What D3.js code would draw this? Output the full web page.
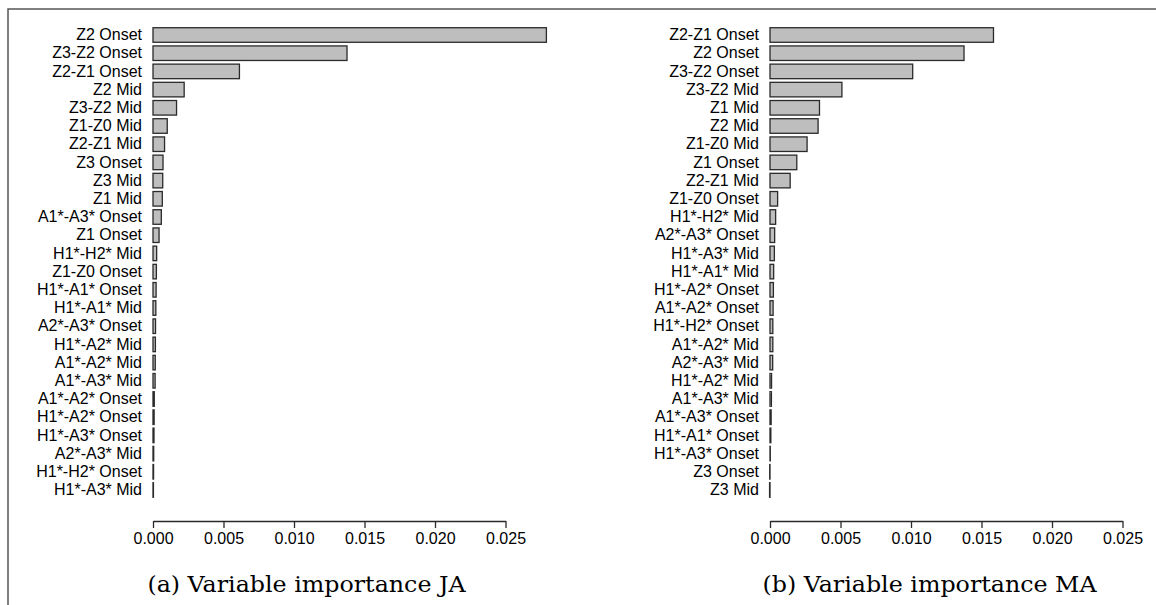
<!DOCTYPE html>
<html>
<head>
<meta charset="utf-8">
<script src="https://cdn.jsdelivr.net/npm/d3@7"></script>
<style>
  html, body { margin: 0; padding: 0; background: #fff; }
  svg { display: block; }
</style>
</head>
<body>
<svg id="chart" width="1156" height="605"></svg>
<script>
// ---- data ----
const categoriesJA = ["Z2 Onset","Z3-Z2 Onset","Z2-Z1 Onset","Z2 Mid","Z3-Z2 Mid","Z1-Z0 Mid","Z2-Z1 Mid","Z3 Onset","Z3 Mid","Z1 Mid","A1*-A3* Onset","Z1 Onset","H1*-H2* Mid","Z1-Z0 Onset","H1*-A1* Onset","H1*-A1* Mid","A2*-A3* Onset","H1*-A2* Mid","A1*-A2* Mid","A1*-A3* Mid","A1*-A2* Onset","H1*-A2* Onset","H1*-A3* Onset","A2*-A3* Mid","H1*-H2* Onset","H1*-A3* Mid"];
const valuesJA = [0.0279, 0.01376, 0.00613, 0.00221, 0.00167, 0.00101, 0.00082, 0.00071, 0.00069, 0.00066, 0.00059, 0.00043, 0.00026, 0.00024, 0.00022, 0.0002, 0.00018, 0.00017, 0.00016, 0.00015, 0.00009, 0.00008, 0.00007, 0.00005, 0.00004, 0.00003];

const categoriesMA = ["Z2-Z1 Onset","Z2 Onset","Z3-Z2 Onset","Z3-Z2 Mid","Z1 Mid","Z2 Mid","Z1-Z0 Mid","Z1 Onset","Z2-Z1 Mid","Z1-Z0 Onset","H1*-H2* Mid","A2*-A3* Onset","H1*-A3* Mid","H1*-A1* Mid","H1*-A2* Onset","A1*-A2* Onset","H1*-H2* Onset","A1*-A2* Mid","A2*-A3* Mid","H1*-A2* Mid","A1*-A3* Mid","A1*-A3* Onset","H1*-A1* Onset","H1*-A3* Onset","Z3 Onset","Z3 Mid"];
const valuesMA = [0.01585, 0.01376, 0.01012, 0.0051, 0.00351, 0.00341, 0.00263, 0.0019, 0.00143, 0.00054, 0.0004, 0.00033, 0.00031, 0.00026, 0.00024, 0.00022, 0.0002, 0.0002, 0.00019, 0.00011, 0.0001, 0.00008, 0.00006, 0.00002, -0.00002, -0.00003];

const tickValues = [0, 0.005, 0.010, 0.015, 0.020, 0.025];
const captions = ["(a) Variable importance JA", "(b) Variable importance MA"];

// ---- layout ----
const svg = d3.select("#chart");
svg.append("rect").attr("width", 1156).attr("height", 605).attr("fill", "#fff");

// frame
svg.append("path")
  .attr("d", "M8,605 L8,9 L1156,9")
  .attr("fill", "none").attr("stroke", "#555").attr("stroke-width", 1.5);

const sansFont = "'Liberation Sans', Arial, Helvetica, sans-serif";

const panels = [
  { cats: categoriesJA, vals: valuesJA, x0: 153, x1: 505.5, cap: captions[0], capX: 306.5 },
  { cats: categoriesMA, vals: valuesMA, x0: 770, x1: 1122.5, cap: captions[1], capX: 929.5 }
];

const axisY = 521;

panels.forEach(p => {
  const g = svg.append("g");
  const x = d3.scaleLinear().domain([0, 0.025]).range([p.x0, p.x1]);
  const y = d3.scaleBand().domain(p.cats).range([25.9, 499.1]).paddingInner(0.2).paddingOuter(0.1);

  g.selectAll("rect.bar").data(p.cats.map((c, i) => ({ c, v: p.vals[i] })))
    .join("rect").attr("class", "bar")
    .attr("x", d => x(Math.min(0, d.v)))
    .attr("y", d => y(d.c))
    .attr("width", d => Math.max(0.01, Math.abs(x(d.v) - x(0))))
    .attr("height", y.bandwidth())
    .attr("fill", "#bebebe")
    .attr("stroke", "#2a2a2a")
    .attr("stroke-width", 1.3);

  // category labels
  const yAxis = g.append("g").attr("transform", `translate(${p.x0},0)`)
    .call(d3.axisLeft(y).tickSize(0).tickPadding(11));
  yAxis.select(".domain").remove();
  yAxis.selectAll("text")
    .attr("font-family", sansFont)
    .attr("font-size", 16)
    .attr("fill", "#000");

  // x axis
  const xAxis = g.append("g").attr("transform", `translate(0,${axisY})`)
    .call(d3.axisBottom(x).tickValues(tickValues).tickFormat(d3.format(".3f")).tickSize(7).tickPadding(4.5).tickSizeOuter(0));
  xAxis.select(".domain").attr("stroke", "#2a2a2a").attr("stroke-width", 1.3);
  xAxis.selectAll(".tick line").attr("stroke", "#2a2a2a").attr("stroke-width", 1.3);
  xAxis.selectAll("text")
    .attr("font-family", sansFont)
    .attr("font-size", 16)
    .attr("fill", "#000");

  // caption
  svg.append("text")
    .attr("transform", `translate(${p.capX},592) scale(1.08,1)`)
    .attr("text-anchor", "middle")
    .attr("font-family", "'DejaVu Serif', serif")
    .attr("font-size", 22)
    .attr("fill", "#000")
    .text(p.cap);
});
</script>
</body>
</html>
